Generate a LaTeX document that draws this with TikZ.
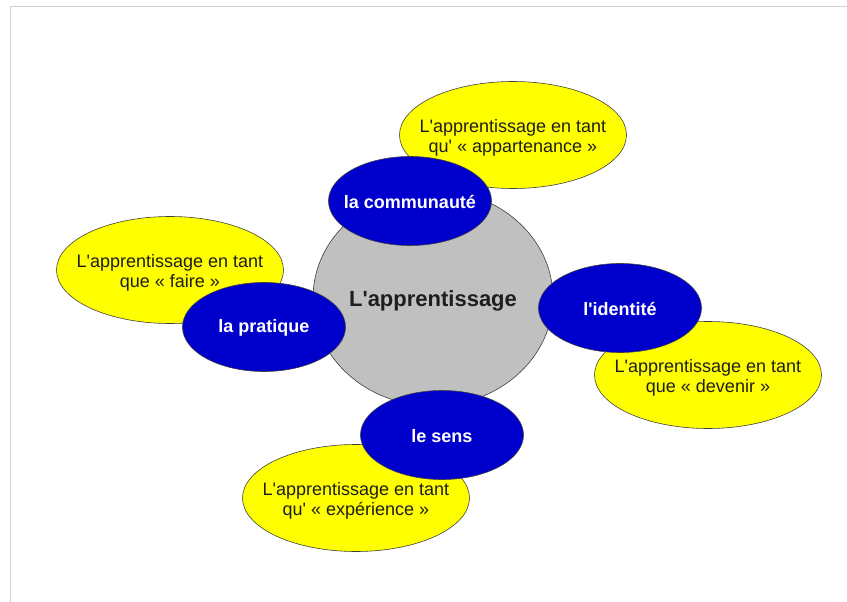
\documentclass[tikz,border=0pt]{standalone}
\usepackage{fontspec}
\setmainfont{Liberation Sans}
\usetikzlibrary{shapes.geometric}
\definecolor{bluefill}{HTML}{0000CC}
\definecolor{yellowfill}{HTML}{FFFF00}
\definecolor{grayfill}{HTML}{C0C0C0}
\definecolor{framegray}{HTML}{D0D0D0}
\definecolor{textdark}{HTML}{1E1E1E}
\newcommand{\aq}{\textquotesingle}
\tikzset{
  oval/.style={ellipse, draw=black!75, line width=0.6pt, inner sep=0pt},
  core/.style={oval, fill=grayfill, minimum width=240pt, minimum height=216pt},
  coretext/.style={text=textdark, font=\fontsize{22}{26}\selectfont\bfseries, align=center, yshift=-3pt},
  theme/.style={oval, fill=bluefill, minimum width=163pt, minimum height=89pt},
  themetext/.style={text=white, font=\fontsize{18}{21}\selectfont\bfseries, align=center, yshift=-1pt},
  facet/.style={oval, fill=yellowfill, minimum width=227pt, minimum height=107pt},
  facettext/.style={text=textdark, font=\fontsize{18}{20}\selectfont, align=center, yshift=-3pt},
}
\begin{document}
\begin{tikzpicture}[x=1pt, y=-1pt]
\useasboundingbox (0,0) rectangle (847,602);
\fill[white] (0,0) rectangle (847,602);
\draw[framegray, line width=1.6pt] (10.5,602) -- (10.5,6.5) -- (847,6.5);
% centre
\node[core, label={[coretext]center:L\aq apprentissage}] (core) at (433,298) {};
% facets
\node[facet, label={[facettext]center:{L\aq apprentissage en tant\\qu\aq{} « appartenance »}}] (appart) at (513,135) {};
\node[facet, label={[facettext]center:{L\aq apprentissage en tant\\que « faire »}}] (faire) at (170,270) {};
\node[facet, label={[facettext]center:{L\aq apprentissage en tant\\que « devenir »}}] (devenir) at (708,375) {};
\node[facet, label={[facettext]center:{L\aq apprentissage en tant\\qu\aq{} « expérience »}}] (experience) at (356,498) {};
% themes
\node[theme, label={[themetext]center:la communauté}] (communaute) at (410,201) {};
\node[theme, label={[themetext]center:la pratique}] (pratique) at (264,327) {};
\node[theme, label={[themetext]center:l\aq identité}] (identite) at (620,308) {};
\node[theme, label={[themetext]center:le sens}] (sens) at (442,435) {};
\end{tikzpicture}
\end{document}
